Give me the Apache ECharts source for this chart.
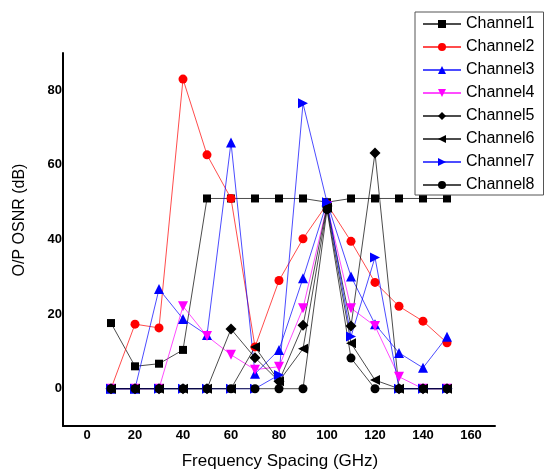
<!DOCTYPE html>
<html>
<head>
<meta charset="utf-8">
<script src="https://cdn.jsdelivr.net/npm/echarts@6/dist/echarts.min.js"></script>
<style>
  html, body { margin: 0; padding: 0; background: #fff; }
  #chart { width: 544px; height: 470px; }
</style>
</head>
<body>
<div id="chart"></div>
<script>
// Frequency spacing (GHz) at which the OSNR was measured
const spacing = [10, 20, 30, 40, 50, 60, 70, 80, 90, 100, 110, 120, 130, 140, 150];

// Output OSNR (dB) per channel
const channel1 = [17.6, 6, 6.7, 10.4, 51, 51, 51, 51, 51, 50, 51, 51, 51, 51, 51];
const channel2 = [0, 17.3, 16.3, 83, 62.7, 51, 11.2, 29, 40.2, 49.5, 39.5, 28.5, 22.1, 18.1, 12.3];
const channel3 = [0, 0, 26.7, 18.7, 14.4, 66, 4, 10.4, 29.6, 50, 30.1, 17.3, 9.6, 5.6, 13.9];
const channel4 = [0, 0, 0, 22.1, 14.1, 9.1, 5.1, 5.9, 21.6, 49, 21.6, 16.8, 3.2, 0, 0];
const channel5 = [0, 0, 0, 0, 0, 16, 8.3, 2, 17, 49, 16.8, 63.2, 0, 0, 0];
const channel6 = [0, 0, 0, 0, 0, 0, 11.2, 2, 10.7, 48.5, 12.2, 2.3, 0, 0, 0];
const channel7 = [0, 0, 0, 0, 0, 0, 0, 3.7, 76.5, 50, 14, 35.2, 0, 0, 0];
const channel8 = [0, 0, 0, 0, 0, 0, 0, 0, 0, 48, 8.2, 0, 0, 0, 0];

// Tick labels shown on each axis
const xTicks = [0, 20, 40, 60, 80, 100, 120, 140, 160];
const yTicks = [0, 20, 40, 60, 80];

const FONT = 'Arial, "Liberation Sans", sans-serif';

// Marker shapes
const TRI_DOWN = 'path://M0,0 L10,0 L5,9 Z';
const TRI_LEFT = 'path://M0,5 L9,0 L9,10 Z';
const TRI_RIGHT = 'path://M0,0 L9,5 L0,10 Z';

function makeSeries(name, values, color, symbol, size) {
  return {
    name: name,
    type: 'line',
    data: spacing.map((x, i) => [x, values[i]]),
    symbol: symbol,
    symbolSize: size,
    showAllSymbol: true,
    lineStyle: { color: color, width: 1, opacity: 0.7 },
    itemStyle: { color: color },
    emphasis: { disabled: true },
    animation: false
  };
}

const chart = echarts.init(document.getElementById('chart'), null, { renderer: 'canvas' });

chart.setOption({
  backgroundColor: '#fff',
  animation: false,
  grid: { left: 63, right: 49, top: 53, bottom: 44, containLabel: false },
  xAxis: {
    type: 'value',
    min: -10,
    max: 170,
    splitLine: { show: false },
    axisTick: { show: false },
    axisLine: { show: true, onZero: false, lineStyle: { color: '#000', width: 2 } },
    axisLabel: {
      customValues: xTicks,
      color: '#000',
      fontFamily: FONT,
      fontSize: 13,
      fontWeight: 'bold',
      margin: 3
    }
  },
  yAxis: {
    type: 'value',
    min: -10,
    max: 90,
    splitLine: { show: false },
    axisTick: { show: false },
    axisLine: { show: true, onZero: false, lineStyle: { color: '#000', width: 2 } },
    axisLabel: {
      customValues: yTicks,
      color: '#000',
      fontFamily: FONT,
      fontSize: 13,
      fontWeight: 'bold',
      margin: 1
    }
  },
  legend: {
    orient: 'vertical',
    left: 415,
    top: 12,
    padding: [3, 9, 1, 7],
    itemWidth: 38,
    itemHeight: 10,
    itemGap: 5,
    borderColor: '#555',
    borderWidth: 1,
    backgroundColor: '#fff',
    textStyle: { color: '#000', fontFamily: FONT, fontSize: 16, lineHeight: 18 }
  },
  graphic: [
    {
      type: 'text',
      x: 20,
      y: 220,
      rotation: Math.PI / 2,
      style: {
        text: 'O/P OSNR (dB)',
        font: '16px ' + FONT,
        fill: '#000',
        align: 'center',
        verticalAlign: 'middle'
      }
    },
    {
      type: 'text',
      x: 280,
      y: 461,
      style: {
        text: 'Frequency Spacing (GHz)',
        font: '17px ' + FONT,
        fill: '#000',
        align: 'center',
        verticalAlign: 'middle'
      }
    }
  ],
  series: [
    makeSeries('Channel1', channel1, '#000000', 'rect', 8),
    makeSeries('Channel2', channel2, '#ff0000', 'circle', 9),
    makeSeries('Channel3', channel3, '#0000ff', 'triangle', 10),
    makeSeries('Channel4', channel4, '#ff00ff', TRI_DOWN, 10),
    makeSeries('Channel5', channel5, '#000000', 'diamond', 11),
    makeSeries('Channel6', channel6, '#000000', TRI_LEFT, 10),
    makeSeries('Channel7', channel7, '#0000ff', TRI_RIGHT, 10),
    makeSeries('Channel8', channel8, '#000000', 'circle', 9)
  ]
});
</script>
</body>
</html>
